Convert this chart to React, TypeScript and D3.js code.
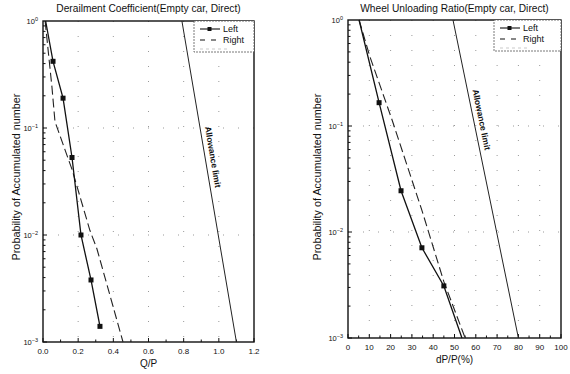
import React, { useRef, useEffect } from 'react';
import * as d3 from 'd3';

// [x, probability]
const derailLeft = [[0.015, 1], [0.057, 0.42], [0.114, 0.19], [0.165, 0.053], [0.216, 0.01], [0.273, 0.0038], [0.324, 0.0014]];
const derailRight = [[0.012, 1], [0.051, 0.24], [0.068, 0.115], [0.165, 0.041], [0.267, 0.011], [0.307, 0.0074], [0.455, 0.001]];
const derailLimit = [[0.79, 1], [1.1, 0.001]];
const derailTicks = [0, 0.2, 0.4, 0.6, 0.8, 1.0, 1.2];

const unloadLeft = [[5.2, 1], [14.6, 0.166], [24.9, 0.0245], [34.7, 0.0071], [45, 0.0031], [53.5, 0.001]];
const unloadRight = [[5.2, 1], [10.3, 0.45], [20.7, 0.114], [34.7, 0.016], [45, 0.0034], [55, 0.001]];
const unloadLimit = [[49.3, 1], [80, 0.001]];
const unloadTicks = [0, 10, 20, 30, 40, 50, 60, 70, 80, 90, 100];

const yExps = [0, -1, -2, -3];
const seriesNames = ['Left', 'Right'];

const FONT = 'Liberation Sans, Arial, sans-serif';

function Panel({ cfg }) {
  const gRef = useRef();

  useEffect(() => {
    const g = d3.select(gRef.current);
    g.selectAll('*').remove();
    const { x0, x1, y0, y1 } = cfg; // y0 top, y1 bottom

    const x = d3.scaleLinear().domain(cfg.xDomain).range([x0, x1]);
    const y = d3.scaleLog().domain([0.001, 1]).range([y1, y0]);

    // faint dotted grid
    const grid = g.append('g').attr('stroke', '#999').attr('stroke-width', 1).attr('stroke-dasharray', '1,14');
    cfg.ticks.slice(1, -1).forEach((t) => {
      grid.append('line').attr('x1', x(t)).attr('x2', x(t)).attr('y1', y0).attr('y2', y1);
    });
    yExps.slice(1, -1).forEach((e) => {
      grid.append('line').attr('x1', x0).attr('x2', x1).attr('y1', y(10 ** e)).attr('y2', y(10 ** e));
    });

    // frame
    g.append('rect').attr('x', x0).attr('y', y0).attr('width', x1 - x0).attr('height', y1 - y0)
      .attr('fill', 'none').attr('stroke', '#111').attr('stroke-width', 1.4);

    // x ticks
    const step = cfg.ticks[1] - cfg.ticks[0];
    const minor = d3.range(0, cfg.ticks.length * 2 - 1).map((i) => cfg.xDomain[0] + (i * step) / 2);
    minor.forEach((t, i) => {
      const len = i % 2 === 0 ? 4 : 2.5;
      g.append('line').attr('x1', x(t)).attr('x2', x(t)).attr('y1', y1).attr('y2', y1 - len)
        .attr('stroke', '#111').attr('stroke-width', 1);
    });
    g.append('g').selectAll('text').data(cfg.ticks).join('text')
      .attr('x', (d) => x(d)).attr('y', y1 + 12).attr('text-anchor', 'middle')
      .attr('font-size', 8).attr('font-family', FONT).attr('fill', '#111')
      .text(cfg.fmt);

    // y ticks
    yExps.slice(1).forEach((e) => {
      for (let k = 1; k <= 9; k++) {
        const v = k * 10 ** e;
        if (v > 1) continue;
        const len = k === 1 ? 4 : 2.5;
        g.append('line').attr('x1', x0).attr('x2', x0 + len).attr('y1', y(v)).attr('y2', y(v))
          .attr('stroke', '#111').attr('stroke-width', 1);
      }
    });
    yExps.forEach((e) => {
      const t = g.append('text').attr('x', x0 - 5).attr('y', y(10 ** e) + 3).attr('text-anchor', 'end')
        .attr('font-size', 7.5).attr('font-family', FONT).attr('fill', '#111');
      t.append('tspan').text('10');
      t.append('tspan').attr('dy', -3).attr('font-size', 5.5).text(String(e).replace('-', '\u2212'));
    });

    const line = d3.line().x((d) => x(d[0])).y((d) => y(d[1]));

    g.append('path').datum(cfg.limitData).attr('d', line).attr('fill', 'none').attr('stroke', '#222').attr('stroke-width', 1);
    g.append('path').datum(cfg.rightData).attr('d', line).attr('fill', 'none').attr('stroke', '#222').attr('stroke-width', 1.1)
      .attr('stroke-dasharray', '9,4');
    g.append('path').datum(cfg.leftData).attr('d', line).attr('fill', 'none').attr('stroke', '#111').attr('stroke-width', 1.3);
    g.append('g').selectAll('rect').data(cfg.leftData.slice(1, cfg.markerEnd)).join('rect')
      .attr('x', (d) => x(d[0]) - 2.5).attr('y', (d) => y(d[1]) - 2.5).attr('width', 5).attr('height', 5).attr('fill', '#111');

    // allowance label
    const a = cfg.limitData[0];
    const b = cfg.limitData[1];
    const ang = (Math.atan2(y(b[1]) - y(a[1]), x(b[0]) - x(a[0])) * 180) / Math.PI;
    const lx = x(a[0]) + (x(b[0]) - x(a[0])) * cfg.labelT + 5;
    const ly = y(a[1]) + (y(b[1]) - y(a[1])) * cfg.labelT;
    g.append('text').attr('transform', `translate(${lx},${ly}) rotate(${ang})`)
      .attr('font-size', 8.5).attr('font-weight', 'bold').attr('font-family', FONT).attr('fill', '#111')
      .text('Allowance limit');

    // legend
    const lg = g.append('g').attr('transform', `translate(${x1 - cfg.legendW},${y0})`);
    lg.append('rect').attr('width', cfg.legendW).attr('height', 31).attr('fill', '#fff')
      .attr('stroke', '#555').attr('stroke-width', 0.8).attr('stroke-dasharray', '2,1');
    seriesNames.forEach((n, i) => {
      const yy = 8 + i * 11;
      lg.append('line').attr('x1', 6).attr('x2', 26).attr('y1', yy).attr('y2', yy).attr('stroke', '#111')
        .attr('stroke-width', 1.1).attr('stroke-dasharray', i === 0 ? null : '5,6');
      if (i === 0) lg.append('rect').attr('x', 13.5).attr('y', yy - 2).attr('width', 4).attr('height', 4).attr('fill', '#111');
      lg.append('text').attr('x', 29).attr('y', yy + 3).attr('font-size', 9).attr('font-family', FONT).attr('fill', '#111').text(n);
    });
    lg.append('line').attr('x1', 6).attr('x2', 36).attr('y1', 28).attr('y2', 28).attr('stroke', '#bbb')
      .attr('stroke-width', 0.8).attr('stroke-dasharray', '3,3');

    // titles
    g.append('text').attr('x', (x0 + x1) / 2).attr('y', 12).attr('text-anchor', 'middle')
      .attr('font-size', 10.2).attr('font-family', FONT).attr('fill', '#111').text(cfg.title);
    g.append('text').attr('x', (x0 + x1) / 2).attr('y', y1 + 25).attr('text-anchor', 'middle')
      .attr('font-size', 10).attr('font-family', FONT).attr('fill', '#111').text(cfg.xLabel);
    g.append('text').attr('transform', `translate(${cfg.yLabelX},${cfg.yLabelY}) rotate(-90)`)
      .attr('text-anchor', 'middle').attr('font-size', 10.8).attr('font-family', FONT).attr('fill', '#111')
      .text('Probability of Accumulated number');
  }, [cfg]);

  return <g ref={gRef} />;
}

const derailCfg = {
  leftData: derailLeft, rightData: derailRight, limitData: derailLimit, ticks: derailTicks, markerEnd: undefined,
  xDomain: [0, 1.2], fmt: (d) => d.toFixed(1),
  title: 'Derailment Coefficient(Empty car, Direct)', xLabel: 'Q/P',
  labelT: 0.33, legendW: 60, yLabelX: 20, yLabelY: 177,
  x0: 43, x1: 254, y0: 21, y1: 342,
};

const unloadCfg = {
  leftData: unloadLeft, rightData: unloadRight, limitData: unloadLimit, ticks: unloadTicks, markerEnd: 5,
  xDomain: [0, 100], fmt: (d) => String(d),
  title: 'Wheel Unloading Ratio(Empty car, Direct)', xLabel: 'dP/P(%)',
  labelT: 0.22, legendW: 67, yLabelX: 321, yLabelY: 177,
  x0: 348, x1: 561, y0: 20, y1: 338,
};

export default function App() {
  return (
    <svg width={570} height={374} style={{ position: 'absolute', left: 0, top: 0, background: '#fff' }}>
      <Panel cfg={derailCfg} />
      <Panel cfg={unloadCfg} />
    </svg>
  );
}
